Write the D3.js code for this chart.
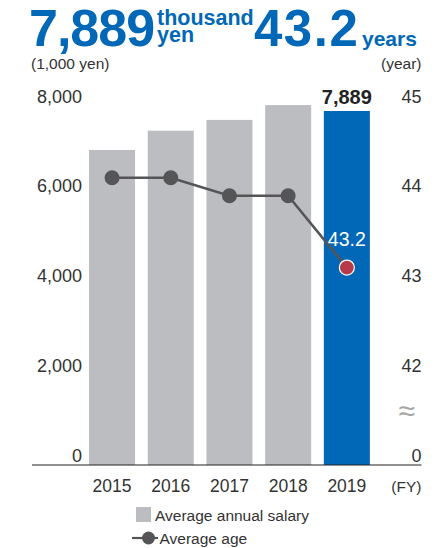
<!DOCTYPE html>
<html>
<head>
<meta charset="utf-8">
<script src="https://cdn.jsdelivr.net/npm/d3@7"></script>
<style>
  html, body { margin: 0; padding: 0; background: #fff; }
  svg { display: block; font-family: "Liberation Sans", Arial, Helvetica, sans-serif; }
</style>
</head>
<body>
<svg id="chart" width="437" height="548"></svg>
<script>
// Fiscal years and the two series shown per year
const years = ["2015", "2016", "2017", "2018", "2019"];
const salary = [7020, 7450, 7690, 8020, 7889];   // average annual salary, 1,000 yen
const age = [44.2, 44.2, 44.0, 44.0, 43.2];       // average age, years
const salaryTicks = [0, 2000, 4000, 6000, 8000];
const ageTicks = [0, 42, 43, 44, 45];

const BLUE = "#0068b6";
const GRAY = "#bcbdc1";
const LINE = "#555557";
const RED = "#b73a4b";
const TEXT = "#333";

const svg = d3.select("#chart");
const baseY = 465;

const x = d3.scaleBand().domain(years).range([82.7, 376.2]).paddingInner(0.216).paddingOuter(0.108);
const ySal = d3.scaleLinear().domain([0, 8000]).range([baseY, 106]);
// broken right-hand scale: 0 sits on the baseline, 42–45 share the upper band
const yAge = d3.scaleLinear().domain([0, 42, 45]).range([baseY, ySal(2000), ySal(8000)]);

// headline figures
const head = svg.append("g").attr("fill", BLUE).attr("font-weight", "bold");
head.append("text").attr("x", 29).attr("y", 46).attr("font-size", 52)
  .attr("letter-spacing", -1).text(d3.format(",")(salary[4]));
head.append("text").attr("x", 157).attr("y", 25).attr("font-size", 21.5)
  .text("thousand");
head.append("text").attr("x", 157).attr("y", 42).attr("font-size", 21.5)
  .text("yen");
head.append("text").attr("x", 254).attr("y", 46).attr("font-size", 51)
  .attr("letter-spacing", 1.5).text(age[4].toFixed(1));
head.append("text").attr("x", 362).attr("y", 46).attr("font-size", 21)
  .text("years");

// unit captions
svg.append("text").attr("x", 31).attr("y", 69).attr("font-size", 15.5).attr("fill", TEXT)
  .text("(1,000 yen)");
svg.append("text").attr("x", 421.5).attr("y", 69).attr("font-size", 15.5).attr("fill", TEXT)
  .attr("text-anchor", "end").text("(year)");

// bars
svg.append("g").selectAll("rect").data(years).join("rect")
  .attr("x", d => x(d))
  .attr("width", x.bandwidth())
  .attr("y", (d, i) => ySal(salary[i]))
  .attr("height", (d, i) => baseY - ySal(salary[i]))
  .attr("fill", (d, i) => i === years.length - 1 ? BLUE : GRAY);

// left axis
const leftAxis = svg.append("g").attr("transform", "translate(82,0)")
  .call(d3.axisLeft(ySal).tickValues(salaryTicks).tickSize(0).tickPadding(0).tickFormat(d3.format(",")));
leftAxis.select(".domain").remove();
leftAxis.selectAll("text").attr("dy", null).attr("y", -4)
  .attr("font-size", 18).attr("fill", TEXT).attr("font-family", null);

// right axis
const rightAxis = svg.append("g").attr("transform", "translate(421.5,0)")
  .call(d3.axisRight(yAge).tickValues(ageTicks).tickSize(0).tickPadding(0));
rightAxis.select(".domain").remove();
rightAxis.selectAll("text").attr("dy", null).attr("y", -4).attr("x", 0)
  .attr("text-anchor", "end").attr("font-size", 18).attr("fill", TEXT).attr("font-family", null);

// break mark on the right axis
const breakY = yAge(42) + 0.4 * (yAge(0) - yAge(42));
svg.append("text").attr("x", 415).attr("y", breakY + 10).attr("text-anchor", "end")
  .attr("font-size", 30).attr("fill", "#a8a8a8").text("≈");

// baseline
svg.append("line").attr("x1", 32).attr("x2", 421.5).attr("y1", baseY).attr("y2", baseY)
  .attr("stroke", "#222").attr("stroke-width", 1.2);

// year labels
const xAxis = svg.append("g").attr("transform", `translate(0,${baseY})`)
  .call(d3.axisBottom(x).tickSize(0).tickPadding(0));
xAxis.select(".domain").remove();
xAxis.selectAll("text").attr("dy", null).attr("y", 27)
  .attr("font-size", 17.5).attr("fill", TEXT).attr("font-family", null);
svg.append("text").attr("x", 421.5).attr("y", 492).attr("text-anchor", "end")
  .attr("font-size", 15.5).attr("fill", TEXT).text("(FY)");

// average age line
const cx = d => x(d) + x.bandwidth() / 2;
svg.append("path")
  .datum(years)
  .attr("d", d3.line().x(cx).y((d, i) => yAge(age[i])))
  .attr("fill", "none").attr("stroke", LINE).attr("stroke-width", 2.6);
svg.append("g").selectAll("circle").data(years).join("circle")
  .attr("cx", cx)
  .attr("cy", (d, i) => yAge(age[i]))
  .attr("r", 7.5)
  .attr("fill", (d, i) => i === years.length - 1 ? RED : LINE)
  .attr("stroke", (d, i) => i === years.length - 1 ? "#fff" : "none")
  .attr("stroke-width", 1.2);

// value labels for the latest year
const last = years.length - 1;
svg.append("text").attr("x", cx(years[last])).attr("y", ySal(salary[last]) - 7)
  .attr("text-anchor", "middle").attr("font-size", 20).attr("font-weight", "bold")
  .attr("fill", "#222").text(d3.format(",")(salary[last]));
svg.append("text").attr("x", cx(years[last])).attr("y", yAge(age[last]) - 21.5)
  .attr("text-anchor", "middle").attr("font-size", 19.5)
  .attr("fill", "#fff").text(age[last].toFixed(1));

// legend
const legend = svg.append("g").attr("font-size", 15.5).attr("fill", TEXT);
legend.append("rect").attr("x", 136).attr("y", 507).attr("width", 15).attr("height", 15).attr("fill", GRAY);
legend.append("text").attr("x", 155).attr("y", 520.5).text("Average annual salary");
legend.append("line").attr("x1", 132).attr("x2", 158).attr("y1", 538).attr("y2", 538)
  .attr("stroke", LINE).attr("stroke-width", 2.2);
legend.append("circle").attr("cx", 148.5).attr("cy", 538).attr("r", 6.5).attr("fill", LINE);
legend.append("text").attr("x", 159.5).attr("y", 543.5).text("Average age");
</script>
</body>
</html>
